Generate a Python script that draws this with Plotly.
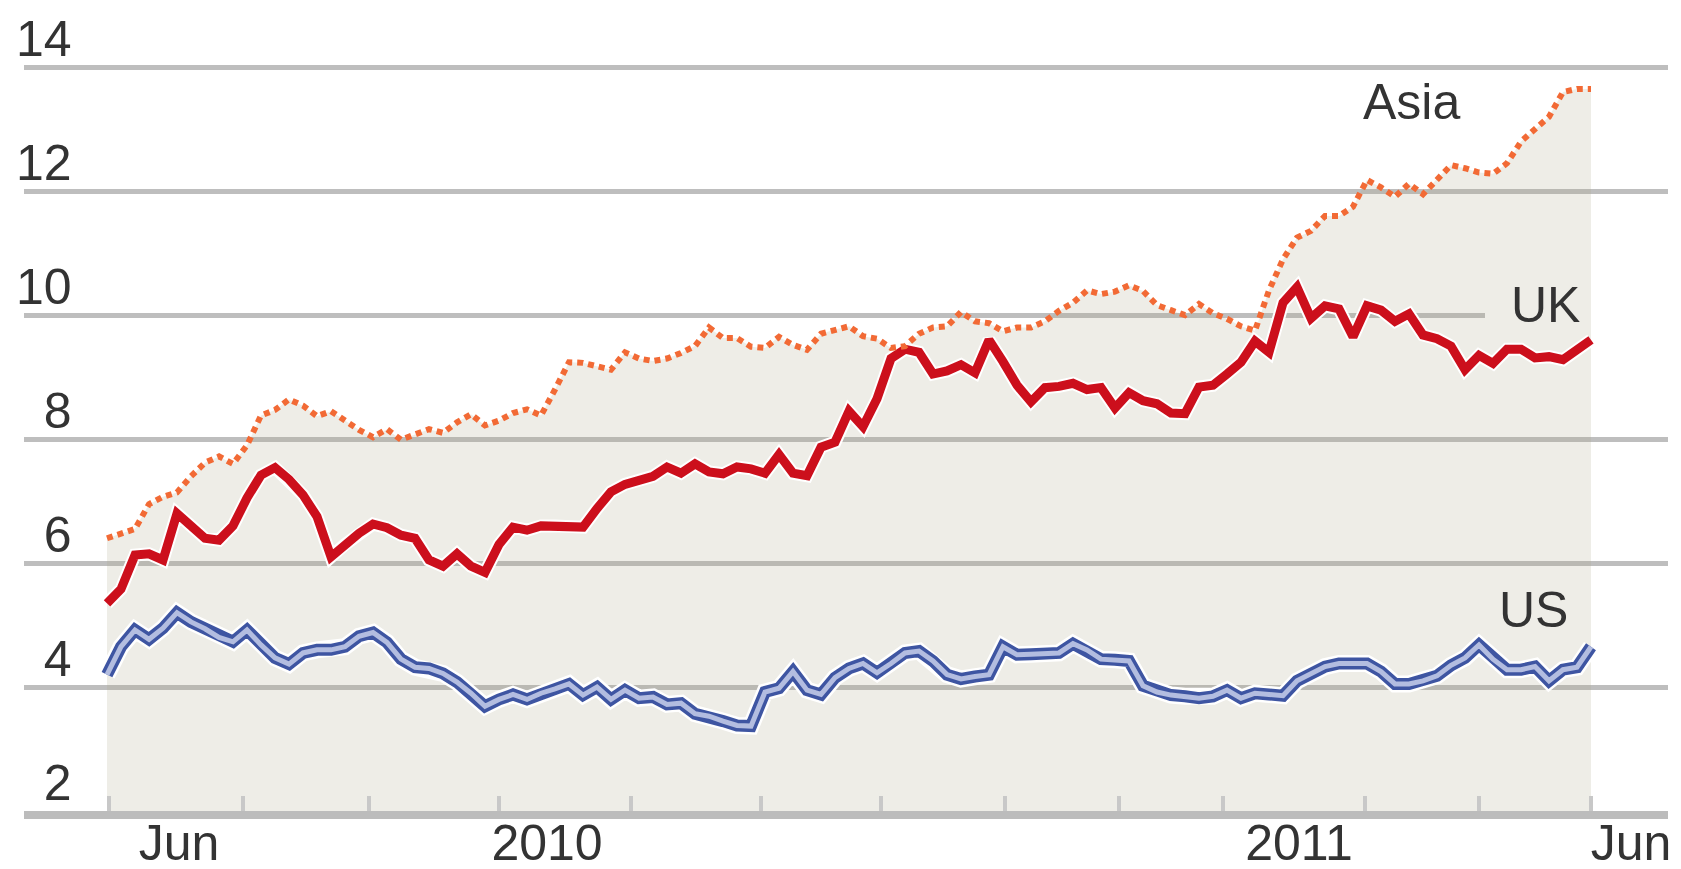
import plotly.graph_objects as go
import pandas as pd

# Weekly observations, late June 2009 to early July 2011
dates = pd.date_range("2009-06-19", periods=107, freq="7D")

asia = [6.4, 6.47, 6.55, 6.95, 7.07, 7.14, 7.4, 7.62, 7.72, 7.6,
        7.9, 8.38, 8.47, 8.64, 8.54, 8.37, 8.45, 8.3, 8.15, 8.03,
        8.16, 7.99, 8.08, 8.16, 8.1, 8.27, 8.4, 8.22, 8.3, 8.42,
        8.48, 8.38, 8.8, 9.24, 9.23, 9.18, 9.12, 9.4, 9.3, 9.26,
        9.3, 9.39, 9.5, 9.8, 9.63, 9.63, 9.49, 9.47, 9.65, 9.52,
        9.44, 9.7, 9.77, 9.82, 9.66, 9.62, 9.47, 9.5, 9.7, 9.8,
        9.82, 10.05, 9.9, 9.87, 9.74, 9.8, 9.8, 9.9, 10.07, 10.2,
        10.4, 10.34, 10.38, 10.48, 10.39, 10.16, 10.08, 10.0, 10.18, 10.03,
        9.94, 9.82, 9.75, 10.4, 10.9, 11.25, 11.36, 11.6, 11.6, 11.75,
        12.18, 12.06, 11.91, 12.12, 11.95, 12.2, 12.42, 12.37, 12.3, 12.28,
        12.45, 12.8, 12.99, 13.2, 13.6, 13.65, 13.65]

uk = [5.35, 5.58, 6.13, 6.15, 6.05, 6.8, 6.6, 6.4, 6.37, 6.6,
      7.05, 7.42, 7.54, 7.35, 7.1, 6.75, 6.1, 6.3, 6.48, 6.63,
      6.57, 6.45, 6.4, 6.05, 5.95, 6.15, 5.95, 5.85, 6.3, 6.58,
      6.53, 6.6, 6.6, 6.58, 6.58, 6.88, 7.15, 7.27, 7.33, 7.4,
      7.55, 7.45, 7.6, 7.47, 7.44, 7.55, 7.52, 7.45, 7.75, 7.45,
      7.41, 7.87, 7.95, 8.45, 8.2, 8.65, 9.3, 9.45, 9.4, 9.05,
      9.1, 9.2, 9.07, 9.6, 9.25, 8.87, 8.6, 8.83, 8.85, 8.9,
      8.8, 8.83, 8.5, 8.75, 8.62, 8.57, 8.42, 8.41, 8.84, 8.87,
      9.05, 9.24, 9.58, 9.4, 10.2, 10.45, 9.95, 10.15, 10.1, 9.65,
      10.15, 10.08, 9.9, 10.02, 9.68, 9.62, 9.5, 9.12, 9.35, 9.22,
      9.45, 9.45, 9.31, 9.33, 9.28, 9.45, 9.6]

us = [4.2, 4.65, 4.92, 4.77, 4.95, 5.2, 5.05, 4.94, 4.8, 4.73,
      4.92, 4.68, 4.47, 4.37, 4.55, 4.6, 4.6, 4.65, 4.82, 4.88,
      4.72, 4.45, 4.32, 4.3, 4.22, 4.08, 3.9, 3.69, 3.8, 3.88,
      3.8, 3.9, 3.97, 4.05, 3.87, 4.0, 3.8, 3.95, 3.82, 3.84,
      3.72, 3.74, 3.57, 3.53, 3.45, 3.38, 3.37, 3.92, 3.98, 4.25,
      3.95, 3.88, 4.15, 4.3, 4.38, 4.23, 4.38, 4.55, 4.58, 4.42,
      4.2, 4.13, 4.17, 4.2, 4.65, 4.52, 4.53, 4.55, 4.55, 4.7,
      4.6, 4.45, 4.44, 4.42, 4.02, 3.92, 3.87, 3.85, 3.82, 3.85,
      3.95, 3.82, 3.9, 3.88, 3.86, 4.1, 4.22, 4.33, 4.38, 4.39,
      4.38, 4.25, 4.05, 4.05, 4.1, 4.18, 4.35, 4.47, 4.68, 4.45,
      4.28, 4.28, 4.33, 4.1, 4.28, 4.32, 4.65]

assert len(asia) == len(uk) == len(us) == len(dates)

y_tickvals = [2, 4, 6, 8, 10, 12, 14]
y_ticktext = ["\u20072", "\u20074", "\u20076", "\u20078", "10", "12", "14"]

x_label_dates = ["2009-07-25", "2010-01-25", "2011-02-05", "2011-07-21"]
x_labels = ["Jun", "2010", "2011", "Jun"]
x_tick_dates = ["2009-06-20", "2009-08-26", "2009-10-28", "2010-01-01",
                "2010-03-08", "2010-05-12", "2010-07-11", "2010-09-11",
                "2010-11-07", "2010-12-29", "2011-03-10", "2011-05-06",
                "2011-07-01"]

FONT = "Liberation Sans, Arial, sans-serif"
TEXT = "#333333"
FS = 50

fig = go.Figure()

# shaded area under the highest series
fig.add_trace(go.Scatter(x=dates, y=asia, mode="lines", line=dict(width=0),
                         fill="tozeroy", fillcolor="rgba(170,165,135,0.2)",
                         hoverinfo="skip", showlegend=False))

# US: double line
fig.add_trace(go.Scatter(x=dates, y=us, mode="lines",
                         line=dict(color="white", width=17), hoverinfo="skip"))
fig.add_trace(go.Scatter(x=dates, y=us, mode="lines", name="US",
                         line=dict(color="#3e55a2", width=12)))
fig.add_trace(go.Scatter(x=dates, y=us, mode="lines", hoverinfo="skip",
                         line=dict(color="#b3bde0", width=5)))

# UK: thick red
fig.add_trace(go.Scatter(x=dates, y=uk, mode="lines",
                         line=dict(color="white", width=13), hoverinfo="skip"))
fig.add_trace(go.Scatter(x=dates, y=uk, mode="lines", name="UK",
                         line=dict(color="#cc0f1c", width=9)))

# Asia: dotted orange
fig.add_trace(go.Scatter(x=dates, y=asia, mode="lines", name="Asia",
                         line=dict(color="#f26a35", width=6, dash="6px,5px")))

# hide the 10 gridline behind the UK label
fig.add_shape(type="rect", xref="x", yref="y", x0="2011-05-09", x1="2011-08-20",
              y0=9.9, y1=10.1, fillcolor="white", line=dict(width=0),
              layer="between")

for txt, xd, yv in [("Asia", "2011-04-02", 13.44),
                    ("UK", "2011-06-08", 10.16),
                    ("US", "2011-06-02", 5.24)]:
    fig.add_annotation(x=xd, y=yv, text=txt, showarrow=False,
                       font=dict(family=FONT, size=FS, color=TEXT),
                       xanchor="center", yanchor="middle")

fig.update_layout(
    width=1681, height=869,
    margin=dict(l=16, r=21, t=53, b=66),
    paper_bgcolor="white", plot_bgcolor="white",
    showlegend=False,
    font=dict(family=FONT, size=FS, color=TEXT),
    xaxis=dict(type="date", range=["2009-05-08 12:00", "2011-08-08 12:00"],
               tickmode="array", tickvals=x_label_dates, ticktext=x_labels,
               ticks="", showgrid=False, zeroline=False,
               showline=True, linecolor="#bcbcbc", linewidth=8,
               tickfont=dict(family=FONT, size=FS, color=TEXT),
               ticklabelstandoff=-19,
               automargin=False,
               minor=dict(tickmode="array", tickvals=x_tick_dates,
                          ticks="inside", ticklen=15, tickwidth=4,
                          tickcolor="#c8c8c8", showgrid=False)),
    yaxis=dict(range=[2, 14.1], tickmode="array", tickvals=y_tickvals,
               ticktext=y_ticktext, ticks="", showline=False, zeroline=False,
               showgrid=True, gridcolor="#bebebe", gridwidth=5,
               ticklabelposition="inside top", ticklabeloverflow="allow",
               ticklabelstandoff=-11, ticklabelshift=6,
               tickfont=dict(family=FONT, size=FS, color=TEXT),
               automargin=False),
)

fig.write_html("out.html")
